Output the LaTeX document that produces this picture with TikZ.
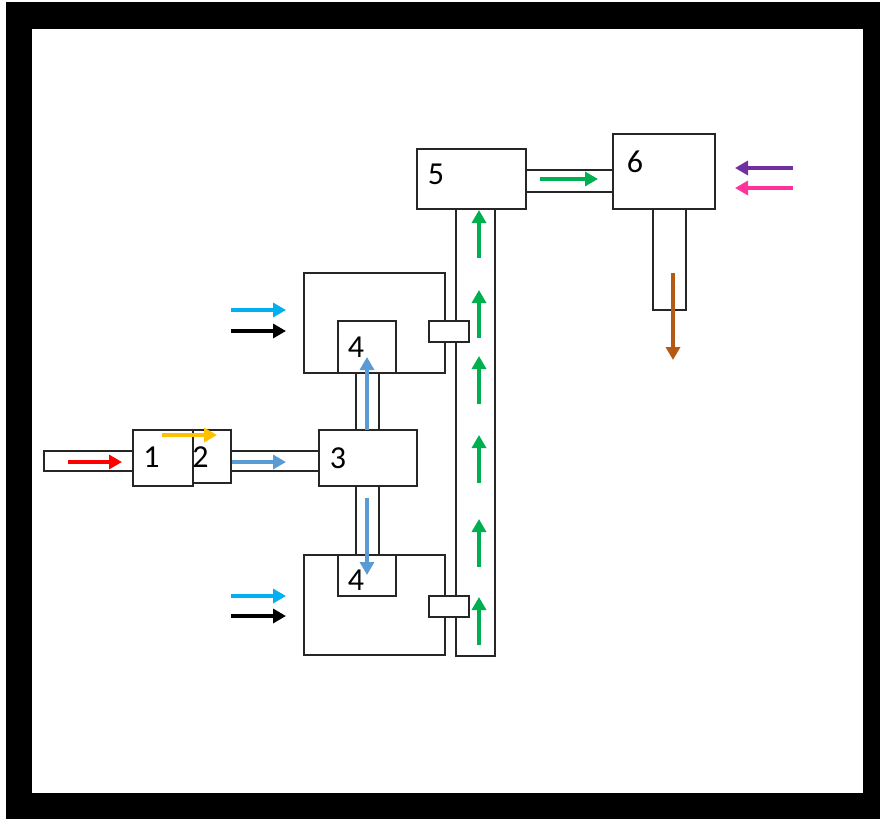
\documentclass[tikz,border=0pt]{standalone}
\usepackage{fontspec}
\setmainfont{Carlito}
\usetikzlibrary{arrows.meta}

\begin{document}
\begin{tikzpicture}
	[x=1pt,y=-1pt,line cap=butt,
	%Styles
	unit/.style={draw=black!85,line width=1.2pt,fill=white},
	pipe/.style={draw=black!85,line width=1.2pt,fill=white},
	flow/.style={line width=3.6pt,-{Triangle[length=13pt,width=14pt]}},
	tag/.style={inner sep=0pt,font=\fontsize{32}{34}\selectfont}
	]
	
	%Colors
	\definecolor{feedred}{HTML}{FF0000}
	\definecolor{airgold}{HTML}{FFC000}
	\definecolor{mixblue}{HTML}{5B9BD5}
	\definecolor{watercyan}{HTML}{00B0F0}
	\definecolor{gasgreen}{HTML}{00B050}
	\definecolor{addpurple}{HTML}{7030A0}
	\definecolor{addpink}{HTML}{FF3399}
	\definecolor{outbrown}{HTML}{B55A14}
	
	%Frame
	\useasboundingbox (0,0) rectangle (880,819);
	\fill[white] (0,0) rectangle (880,819);
	\fill[black] (6,2) rectangle (880,819);
	\fill[white] (32,29) rectangle (862.5,793);
	
	%Pipes
	\draw[pipe] (44,451) rectangle (133,471);
	\draw[pipe] (231,451) rectangle (319,471);
	\draw[pipe] (356,373) rectangle (379,430);
	\draw[pipe] (356,486) rectangle (379,555);
	\draw[pipe] (456,209) rectangle (495,656);
	\draw[pipe] (526,170) rectangle (613,192);
	\draw[pipe] (653,209) rectangle (686,310);
	
	%Units
	\draw[unit] (193,430) rectangle (231,483);
	\draw[unit] (133,430) rectangle (193,486);
	\draw[unit] (319,430) rectangle (417,486);
	\draw[unit] (304,273) rectangle (445,373);
	\draw[unit] (338,321) rectangle (396,373);
	\draw[unit] (304,555) rectangle (445,655);
	\draw[unit] (338,555) rectangle (396,596);
	\draw[unit] (417,149) rectangle (526,209);
	\draw[unit] (613,134) rectangle (715,209);
	
	%Joints on the riser
	\draw[unit] (429,321) rectangle (469,342);
	\draw[unit] (429,596) rectangle (469,617);
	
	%Labels
	\node[tag] (u1) at (151.5,457.5) {1};
	\node[tag] (u2) at (200.5,457.5) {2};
	\node[tag] (u3) at (338,458) {3};
	\node[tag] (u4a) at (356,347) {4};
	\node[tag] (u4b) at (356,580) {4};
	\node[tag] (u5) at (436,174) {5};
	\node[tag] (u6) at (635,162) {6};
	
	%Flows
	\draw[flow,feedred] (68,462) -- (122,462);
	\draw[flow,airgold] (162,435) -- (217,435);
	\draw[flow,mixblue] (232,462) -- (286,462);
	\draw[flow,mixblue] (367,430) -- (367,357);
	\draw[flow,mixblue] (367,498) -- (367,575);
	\draw[flow,watercyan] (231,310) -- (286,310);
	\draw[flow,black] (231,331) -- (286,331);
	\draw[flow,watercyan] (231,596) -- (286,596);
	\draw[flow,black] (231,616) -- (286,616);
	\foreach \tip in {210,290,356,435,519,597}
		\draw[flow,gasgreen] (479,\tip+48) -- (479,\tip);
	\draw[flow,gasgreen] (540,179) -- (598,179);
	\draw[flow,addpurple] (793,168) -- (735,168);
	\draw[flow,addpink] (793,188) -- (735,188);
	\draw[flow,outbrown] (673,273) -- (673,360);
\end{tikzpicture}
\end{document}
